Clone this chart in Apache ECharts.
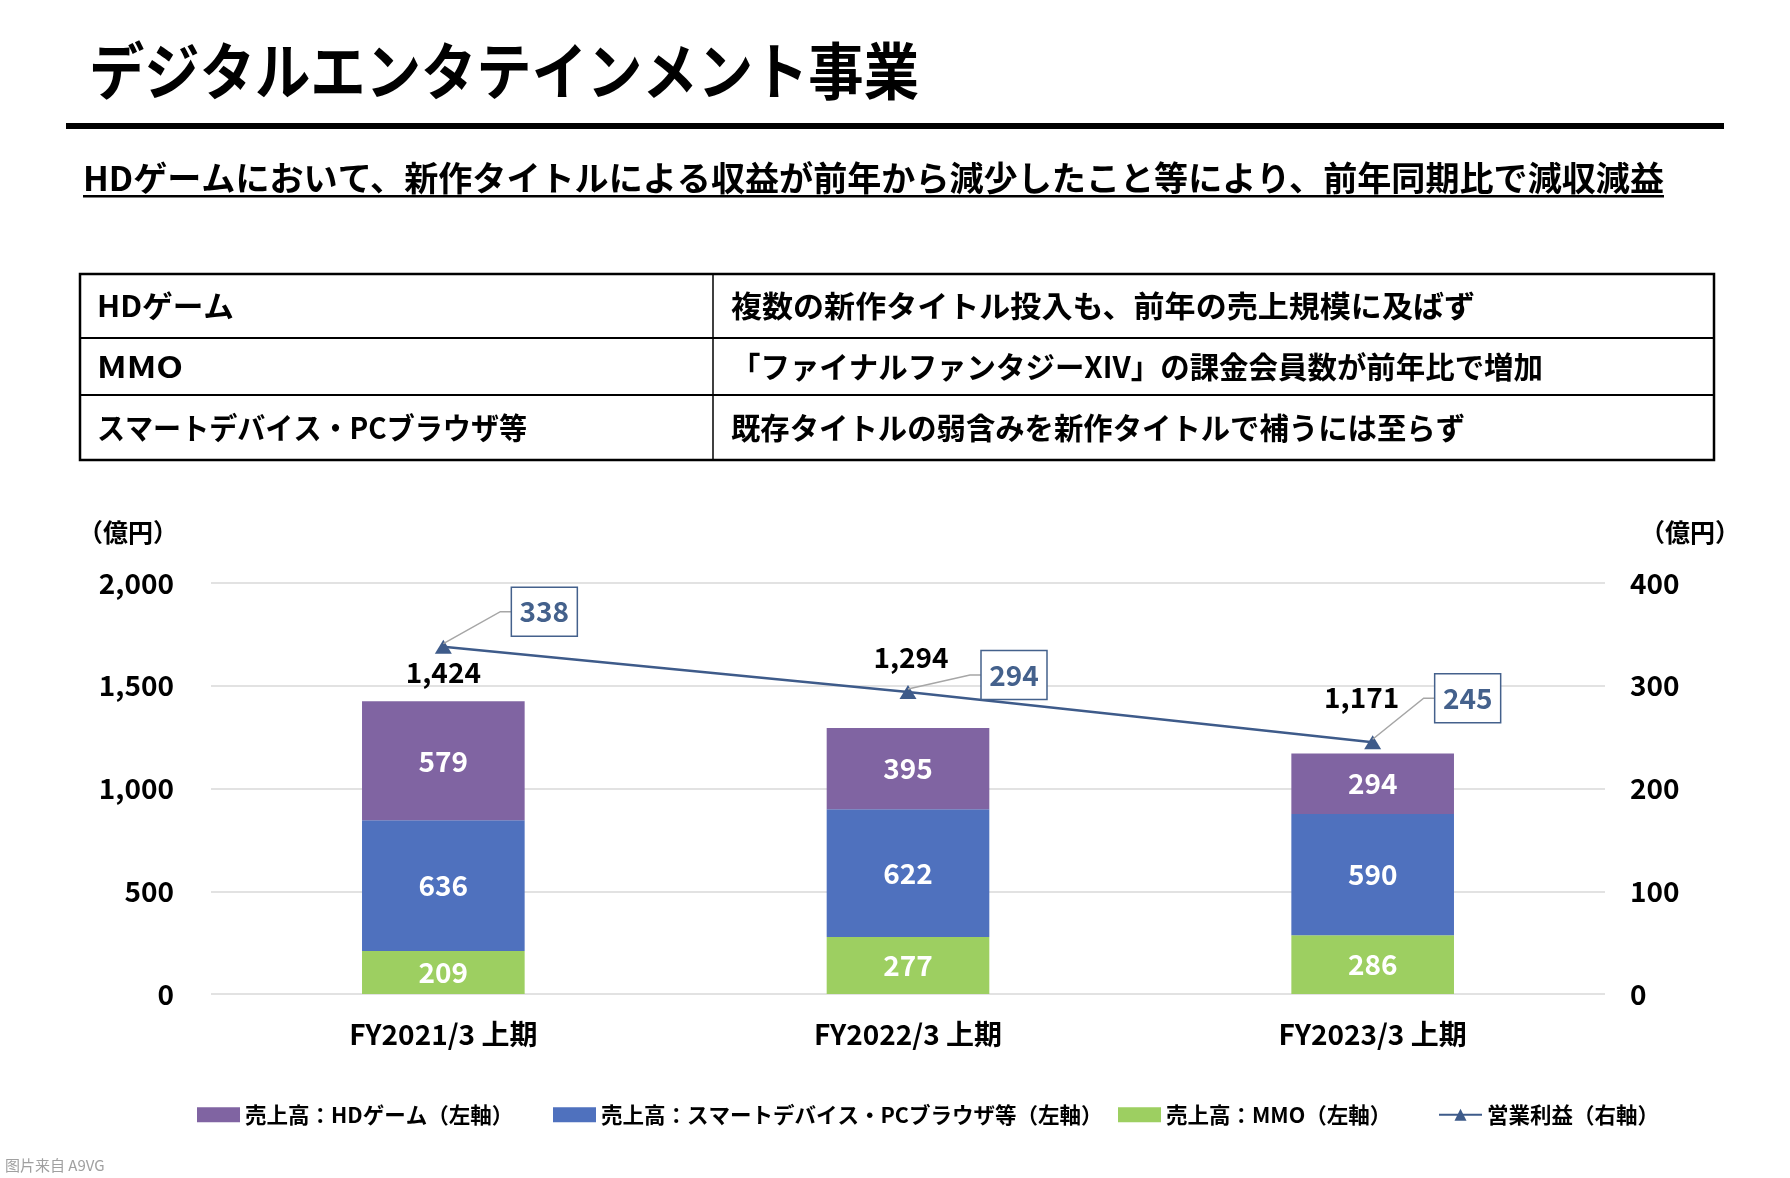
<!DOCTYPE html>
<html><head><meta charset="utf-8">
<script src="https://cdn.jsdelivr.net/npm/echarts@6/dist/echarts.min.js"></script>
<style>html,body{margin:0;padding:0;background:#fff;}#c{width:1790px;height:1178px;}</style>
</head><body><div id="c"></div>
<script>
// ---- content / data ----
const titleText = 'デジタルエンタテインメント事業';
const subtitleText = 'HDゲームにおいて、新作タイトルによる収益が前年から減少したこと等により、前年同期比で減収減益';
const tableLeft = ['HDゲーム', 'MMO', 'スマートデバイス・PCブラウザ等'];
const tableRight = ['複数の新作タイトル投入も、前年の売上規模に及ばず', '「ファイナルファンタジーXIV」の課金会員数が前年比で増加', '既存タイトルの弱含みを新作タイトルで補うには至らず'];
const unitText = '（億円）';
const sourceText = '图片来自 A9VG';

const categories = ['FY2021/3 上期', 'FY2022/3 上期', 'FY2023/3 上期'];
const hdGame = [579, 395, 294];
const smartPc = [636, 622, 590];
const mmo = [209, 277, 286];
const totals = [1424, 1294, 1171];
const opProfit = [338, 294, 245];
const leftAxisRange = [0, 2000, 500];
const rightAxisRange = [0, 400, 100];

const nameHD = '売上高：HDゲーム（左軸）';
const nameSP = '売上高：スマートデバイス・PCブラウザ等（左軸）';
const nameMMO = '売上高：MMO（左軸）';
const nameOP = '営業利益（右軸）';

// ---- styling ----
const F = "'Noto Sans CJK JP', 'Noto Sans', sans-serif";
const C_HD = '#8064A2', C_SP = '#4F71BE', C_MMO = '#9DCF61', C_LINE = '#3E5B8A', C_BOX = '#44618C';
const fmt = v => Number(v).toLocaleString('en-US');

const mctx = document.createElement('canvas').getContext('2d');
function fitScale(text, size, weight, target) {
  mctx.font = weight + ' ' + size + 'px ' + F;
  const w = mctx.measureText(text).width;
  return target ? target / w : 1;
}
function txt(x, y, text, size, weight, target, color, family) {
  return {
    type: 'text', x: x, y: y, scaleX: target ? fitScale(text, size, weight, target) : 1, z: 10,
    style: { text: text, fontSize: size, fontWeight: weight, fontFamily: family || F, fill: color || '#000', verticalAlign: 'middle', align: 'left' }
  };
}

const rowY = [306, 367, 428];
const leftW = [137, 86, 430];
const rightW = [744, 812, 734];

const graphics = [
  txt(89, 71, titleText, 62, 'bold', 830),
  { type: 'rect', shape: { x: 66, y: 123, width: 1658, height: 6 }, style: { fill: '#000' } },
  txt(83, 178, subtitleText, 34, 'bold', 1581),
  { type: 'rect', shape: { x: 83, y: 195, width: 1581, height: 2.5 }, style: { fill: '#000' } },
  { type: 'rect', shape: { x: 80, y: 274, width: 1634, height: 186 }, style: { fill: 'none', stroke: '#000', lineWidth: 2.5 } },
  { type: 'line', shape: { x1: 80, y1: 338, x2: 1714, y2: 338 }, style: { stroke: '#000', lineWidth: 2 } },
  { type: 'line', shape: { x1: 80, y1: 395, x2: 1714, y2: 395 }, style: { stroke: '#000', lineWidth: 2 } },
  { type: 'line', shape: { x1: 713, y1: 274, x2: 713, y2: 460 }, style: { stroke: '#000', lineWidth: 1.5 } },
  txt(78, 532, unitText, 25, 'bold'),
  txt(1640, 532, unitText, 25, 'bold'),
  txt(5, 1165, sourceText, 15, 'normal', null, '#a0a0a0', "'Noto Sans CJK SC', sans-serif")
];
tableLeft.forEach((t, i) => graphics.push(txt(97, rowY[i], t, 30, 'bold', leftW[i])));
tableRight.forEach((t, i) => graphics.push(txt(731, rowY[i], t, 30, 'bold', rightW[i])));

const TOTAL_OFFSETS = [[0, -29], [3, -71], [-11, -56]];
const CALLOUTS = [[101, -35], [106, -17], [95, -44]];
const BOX_W = 66, BOX_H = 49;

const barLabel = { show: true, position: 'inside', color: '#fff', fontSize: 28, fontWeight: 'bold', fontFamily: F };

const legendItems = [{ name: nameHD, icon: 'rect' }, { name: nameSP, icon: 'rect' }, { name: nameMMO, icon: 'rect' }, { name: nameOP }];
const legendLefts = [192, 548, 1113, 1433];
const legends = legendItems.map((it, i) => ({
  left: legendLefts[i], top: 1099, itemWidth: 43, itemHeight: 15, data: [it],
  textStyle: { fontSize: 21.5, fontWeight: 'bold', fontFamily: F, color: '#000' }
}));

const chart = echarts.init(document.getElementById('c'), null, { renderer: 'canvas' });
chart.setOption({
  animation: false,
  backgroundColor: '#fff',
  graphic: graphics,
  grid: { left: 211, right: 185, top: 583, bottom: 184 },
  legend: legends,
  xAxis: {
    type: 'category', data: categories,
    axisLine: { show: false }, axisTick: { show: false },
    axisLabel: { fontSize: 28, fontWeight: 'bold', fontFamily: F, color: '#000', margin: 26 }
  },
  yAxis: [
    { type: 'value', min: leftAxisRange[0], max: leftAxisRange[1], interval: leftAxisRange[2],
      axisLine: { show: false }, axisTick: { show: false },
      splitLine: { lineStyle: { color: '#D9D9D9', width: 1.5 } },
      axisLabel: { fontSize: 28, fontWeight: 'bold', fontFamily: F, color: '#000', margin: 37, formatter: v => fmt(v) } },
    { type: 'value', min: rightAxisRange[0], max: rightAxisRange[1], interval: rightAxisRange[2],
      axisLine: { show: false }, axisTick: { show: false }, splitLine: { show: false },
      axisLabel: { fontSize: 28, fontWeight: 'bold', fontFamily: F, color: '#000', margin: 25 } }
  ],
  series: [
    { name: nameMMO, type: 'bar', stack: 's', data: mmo, barWidth: '35%', itemStyle: { color: C_MMO }, label: barLabel },
    { name: nameSP, type: 'bar', stack: 's', data: smartPc, barWidth: '35%', itemStyle: { color: C_SP }, label: barLabel },
    { name: nameHD, type: 'bar', stack: 's', data: hdGame, barWidth: '35%', itemStyle: { color: C_HD }, label: barLabel },
    { name: nameOP, type: 'line', yAxisIndex: 1, data: opProfit, symbol: 'triangle', symbolSize: [17, 14],
      lineStyle: { color: C_LINE, width: 2.5 }, itemStyle: { color: C_LINE }, z: 4 },
    { type: 'custom', yAxisIndex: 0, data: totals.map((v, i) => [i, v]), z: 5,
      renderItem: (p, api) => {
        const c = api.coord([api.value(0), api.value(1)]);
        const o = TOTAL_OFFSETS[p.dataIndex];
        return { type: 'text', x: c[0] + o[0], y: c[1] + o[1],
          style: { text: fmt(api.value(1)), fontSize: 28, fontWeight: 'bold', fontFamily: F, fill: '#000', align: 'center', verticalAlign: 'middle' } };
      } },
    { type: 'custom', yAxisIndex: 1, data: opProfit.map((v, i) => [i, v]), z: 6,
      renderItem: (p, api) => {
        const c = api.coord([api.value(0), api.value(1)]);
        const o = CALLOUTS[p.dataIndex];
        const cx = c[0] + o[0], cy = c[1] + o[1];
        const bx = cx - BOX_W / 2;
        return { type: 'group', children: [
          { type: 'polyline', shape: { points: [[c[0], c[1] - 3], [bx - 11, cy], [bx, cy]] }, style: { stroke: '#A6A6A6', lineWidth: 1.5, fill: 'none' } },
          { type: 'rect', shape: { x: bx, y: cy - BOX_H / 2, width: BOX_W, height: BOX_H }, style: { fill: '#fff', stroke: C_BOX, lineWidth: 1.5 } },
          { type: 'text', x: cx, y: cy, style: { text: String(api.value(1)), fontSize: 28, fontWeight: 'bold', fontFamily: F, fill: C_BOX, align: 'center', verticalAlign: 'middle' } }
        ] };
      } }
  ]
});
</script>
</body></html>
